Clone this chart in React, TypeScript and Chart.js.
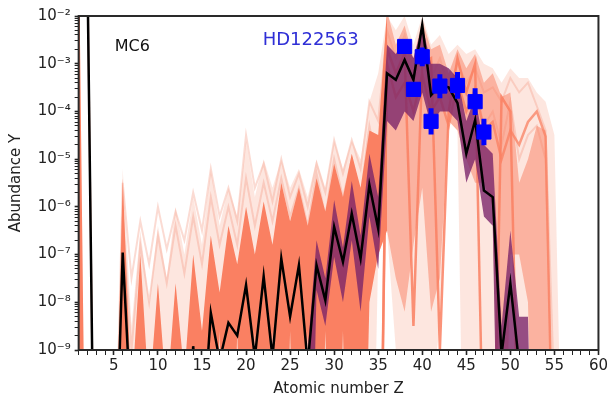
import { useEffect, useRef } from 'react';
import { Chart, registerables } from 'chart.js';

Chart.register(...registerables);

// Atomic number Z
const Z = [1, 2, 3, 4, 5, 6, 7, 8, 9, 10, 11, 12, 13, 14, 15, 16, 17, 18, 19, 20,
  21, 22, 23, 24, 25, 26, 27, 28, 29, 30, 31, 32, 33, 34, 35, 36, 37, 38, 39, 40,
  41, 42, 43, 44, 45, 46, 47, 48, 49, 50, 51, 52, 53, 54, 55, 56];

// Black median line
const medianY = [0.7, 0.08, 1e-16, 1e-16, 1e-13, 1.1e-7, 3e-11, 1e-13, 1e-13, 1e-13,
  1e-13, 1e-13, 1e-12, 1.2e-9, 1e-11, 6e-9, 6e-10, 3.7e-9, 2e-9, 2.3e-8,
  7e-10, 3.5e-8, 7e-10, 8.3e-8, 5e-9, 6e-8, 5e-10, 6e-8, 1.1e-8, 3.8e-7,
  7e-8, 7.2e-7, 8.3e-8, 2.9e-6, 3.5e-7, 6.3e-4, 4.6e-4, 1.2e-3, 4.6e-4, 6.5e-3,
  2.2e-4, 3.5e-4, 3.2e-4, 1.5e-4, 1.3e-5, 6.6e-5, 2.2e-6, 1.6e-6, 8e-10, 2.5e-8,
  5e-10, 1e-12, 1e-13, 1e-13, 1e-13, 1e-13];

// Saturated orange envelope
const orangeHi = [0.8, 1e-16, 1e-16, 1e-16, 1e-13, 4e-6, 1e-10, 1e-7, 1e-10, 2.5e-8,
  1e-10, 2.5e-8, 3e-10, 1e-7, 2.5e-9, 2.5e-7, 1.6e-8, 4e-7, 6.3e-8, 1e-6,
  1e-7, 1.3e-6, 1.6e-7, 3.2e-6, 5e-7, 2.5e-6, 4e-7, 4e-6, 8e-7, 8e-6,
  1.6e-6, 1.3e-5, 2.5e-6, 4e-5, 3.2e-5, 1.3e-2, 2.5e-3, 6.3e-3, 1.3e-3, 8e-3,
  2e-3, 2.5e-3, 6.3e-4, 2e-3, 8e-4, 1.6e-3, 4e-4, 6.3e-4, 2e-4, 2.5e-4,
  3.2e-6, 1e-5, 5e-5, 4e-5, 1e-12, 1e-13];
const orangeLo = [1e-16, 1e-16, 1e-16, 1e-16, 1e-16, 1e-16, 1e-16, 1e-16, 1e-16, 1e-16,
  1e-16, 1e-16, 1e-16, 1e-16, 1e-16, 1e-16, 2.5e-9, 1e-16, 2.5e-9, 1e-16,
  2.5e-9, 1e-16, 2.5e-9, 1e-16, 2.5e-9, 1e-16, 2.5e-9, 1e-16, 2.5e-9, 1e-16,
  2.5e-9, 1e-16, 1e-16, 1e-8, 1e-7, 3.2e-7, 3.2e-8, 6.3e-9, 1.6e-7, 2.5e-6,
  6.3e-9, 3.2e-8, 6.3e-5, 4e-5, 1e-5, 3.2e-6, 3.2e-6, 1e-6, 1e-16, 1e-7,
  1e-7, 1e-8, 1e-16, 1e-16, 1e-16, 1e-16];

// Pale outer envelope of all runs
const paleHi = [0.8, 1e-16, 1e-16, 1e-16, 1e-13, 6.3e-6, 3.2e-9, 3.2e-7, 1e-8, 4e-7,
  3.2e-8, 1e-6, 1e-7, 1.6e-6, 1.6e-7, 6.3e-6, 4e-7, 2.5e-6, 6.3e-7, 2.5e-5,
  1.6e-6, 1e-5, 2.5e-6, 1e-5, 2.5e-6, 6.3e-6, 1.6e-6, 1e-5, 2.5e-6, 2.5e-5,
  6.3e-6, 2.5e-5, 1e-5, 1.6e-4, 6.3e-4, 1e-2, 5e-3, 1e-2, 2.5e-3, 1e-2,
  2.5e-3, 4e-3, 1.6e-3, 2.5e-3, 1.6e-3, 2e-3, 1e-3, 8e-4, 4e-4, 8e-4,
  5e-4, 5e-4, 2.5e-4, 1.6e-4, 3.2e-5, 1e-13];
const paleLo = [1e-16, 1e-16, 1e-16, 1e-16, 1e-16, 1e-16, 1e-16, 1e-16, 1e-16, 1e-16,
  1e-16, 1e-16, 1e-16, 1e-16, 1e-16, 1e-16, 1e-16, 1e-16, 1e-16, 1e-16,
  1e-16, 1e-16, 1e-16, 1e-16, 1e-16, 1e-16, 1e-16, 1e-16, 1e-16, 1e-16,
  1e-16, 1e-16, 1e-16, 1e-16, 1e-7, 3.2e-7, 1e-9, 1e-10, 1e-10, 1e-10,
  1e-10, 3.2e-9, 6.3e-5, 4e-5, 1e-16, 1e-16, 1e-16, 1e-16, 1e-16, 1e-16,
  1e-16, 1e-16, 1e-16, 1e-16, 1e-16, 1e-16];

// Purple (inner) envelope
const purpleHi = [1e-16, 1e-16, 1e-16, 1e-16, 1e-16, 1e-16, 1e-16, 1e-16, 1e-16, 1e-16,
  1e-16, 1e-16, 1e-16, 1e-16, 1e-16, 1e-16, 1e-16, 1e-16, 1e-16, 1e-16,
  1e-16, 1e-16, 1e-16, 1e-16, 1e-16, 1e-16, 1e-9, 2e-7, 3.2e-8, 1.4e-6,
  1.4e-7, 3.5e-6, 2.5e-7, 1.3e-5, 1.6e-6, 2.5e-3, 1.6e-3, 3.2e-3, 1.3e-3, 6.3e-3,
  1e-3, 1e-3, 8e-4, 5e-4, 6.3e-5, 2e-4, 2e-5, 1.3e-5, 3.2e-9, 3.2e-7,
  5e-9, 5e-9, 1e-16, 1e-16, 1e-16, 1e-16];
const purpleLo = [1e-16, 1e-16, 1e-16, 1e-16, 1e-16, 1e-16, 1e-16, 1e-16, 1e-16, 1e-16,
  1e-16, 1e-16, 1e-16, 1e-16, 1e-16, 1e-16, 1e-16, 1e-16, 1e-16, 1e-16,
  1e-16, 1e-16, 1e-16, 1e-16, 1e-16, 1e-16, 1e-16, 1.8e-8, 3.2e-9, 8.9e-8,
  1e-8, 2e-7, 6.3e-9, 6.3e-7, 5e-8, 6.3e-5, 4e-5, 1e-4, 6.3e-5, 2.5e-4,
  5e-5, 1e-4, 1e-4, 6.3e-5, 3.2e-6, 1e-5, 6.3e-7, 4e-7, 1e-16, 1e-16,
  1e-16, 1e-16, 1e-16, 1e-16, 1e-16, 1e-16];

// Faint individual runs
const ghostA = [0.8, 0.1, 1e-16, 1e-16, 1e-13, 3.2e-6, 3.2e-8, 5e-7, 6.3e-8, 1e-6,
  1.3e-7, 8e-7, 2e-7, 2e-6, 3.2e-7, 6.3e-6, 6.3e-7, 2.5e-6, 5e-7, 3.2e-5,
  2.5e-6, 8e-6, 1.3e-6, 1e-5, 1.6e-6, 5e-6, 1e-6, 8e-6, 2e-6, 2.5e-5,
  5e-6, 2.5e-5, 6.3e-6, 1.6e-4, 6.3e-5, 5e-3, 1.3e-3, 4e-3, 6.3e-4, 4e-3,
  5e-4, 1.3e-3, 3.2e-4, 1e-3, 4e-4, 8e-4, 2.5e-4, 3.2e-4, 1.6e-4, 5e-4,
  2.5e-4, 4e-4, 1.3e-4, 4e-5, 1e-10, 1e-13];
const ghostB = [0.8, 0.1, 1e-16, 1e-16, 1e-13, 6.3e-7, 1e-9, 1.6e-7, 1e-8, 2.5e-7,
  2.5e-8, 4e-7, 4e-8, 6.3e-7, 6.3e-8, 1.6e-6, 1.6e-7, 1e-6, 1.6e-7, 4e-6,
  4e-7, 3.2e-6, 5e-7, 4e-6, 6.3e-7, 2.5e-6, 4e-7, 5e-6, 6.3e-7, 1e-5,
  1.6e-6, 1e-5, 1.6e-6, 5e-5, 6.3e-6, 2.5e-3, 6.3e-4, 2e-3, 3.2e-4, 2.5e-3,
  1.6e-4, 6.3e-4, 2e-4, 5e-4, 1e-4, 3.2e-4, 5e-5, 1e-4, 2e-5, 1.6e-4,
  1e-5, 3.2e-5, 5e-5, 1e-5, 1e-12, 1e-13];

// Orange runs that drop steeply (streaks at high Z)
const streakC = [1e-16, 1e-16, 1e-16, 1e-16, 1e-16, 1e-16, 1e-16, 1e-16, 1e-16, 1e-16,
  1e-16, 1e-16, 1e-16, 1e-16, 1e-16, 1e-16, 1e-16, 1e-16, 1e-16, 1e-16,
  1e-16, 1e-16, 1e-16, 1e-16, 1e-16, 1e-16, 1e-16, 1e-16, 1e-16, 1e-16,
  1e-16, 1e-16, 1e-16, 1e-16, 1e-16, 2e-3, 6.3e-4, 1.6e-3, 3.2e-9, 1e-3,
  1.3e-3, 1e-9, 1e-4, 1.3e-3, 2.5e-4, 1e-3, 1e-12, 1e-13, 2e-4, 1e-4,
  1e-12, 1e-13, 1e-13, 1e-13, 1e-13, 1e-13];
const streakD = [1e-16, 1e-16, 1e-16, 1e-16, 1e-16, 1e-16, 1e-16, 1e-16, 1e-16, 1e-16,
  1e-16, 1e-16, 1e-16, 1e-16, 1e-16, 1e-16, 1e-16, 1e-16, 1e-16, 1e-16,
  1e-16, 1e-16, 1e-16, 1e-16, 1e-16, 1e-16, 1e-16, 1e-16, 1e-16, 1e-16,
  1e-16, 1e-16, 1e-16, 1e-16, 1e-16, 1e-3, 2e-4, 4e-4, 1e-4, 6e-4,
  1e-4, 2e-4, 5e-5, 4e-4, 1e-4, 3e-4, 4e-5, 6e-5, 1e-5, 4e-5,
  2e-5, 6e-5, 1e-4, 3e-5, 1e-13, 1e-13];

// Observations HD122563
const obsZ = [38, 39, 40, 41, 42, 44, 46, 47];
const obsY = [2.3e-3, 2.9e-4, 1.4e-3, 6.2e-5, 3.4e-4, 3.5e-4, 1.6e-4, 3.7e-5];
const obsLo = [1.8e-3, 2.3e-4, 8.8e-4, 3.3e-5, 1.9e-4, 1.85e-4, 8.4e-5, 1.95e-5];
const obsHi = [2.9e-3, 3.65e-4, 2.2e-3, 1.16e-4, 6e-4, 6.7e-4, 3.05e-4, 7.05e-5];

// Tick labels
const xTickLabels = [5, 10, 15, 20, 25, 30, 35, 40, 45, 50, 55, 60];
const yTickExps = [-9, -8, -7, -6, -5, -4, -3, -2];

const SUP: Record<string, string> = { '-': '⁻', '0': '⁰', '1': '¹', '2': '²', '3': '³', '4': '⁴', '5': '⁵', '6': '⁶', '7': '⁷', '8': '⁸', '9': '⁹' };
const sup = (n: number) => String(n).split('').map((c) => SUP[c] ?? c).join('');

const pts = (vals: number[], from = 0, to = Z.length) =>
  Z.slice(from, to).map((z, i) => ({ x: z, y: vals[from + i] }));

const FONT = '"DejaVu Sans", sans-serif';

export default function App() {
  const ref = useRef<HTMLCanvasElement | null>(null);

  useEffect(() => {
    document.body.style.margin = '0';
    const canvas = ref.current;
    if (!canvas) return;

    const errPts: { x: number; y: number | null }[] = [];
    obsZ.forEach((z, i) => {
      errPts.push({ x: z, y: obsLo[i] }, { x: z, y: obsHi[i] }, { x: z, y: null });
    });

    const band = (hi: number[], lo: number[], color: string, order: number, label: string, from = 0, to = Z.length) => [
      {
        label: label + ' hi', data: pts(hi, from, to), borderWidth: 0, pointRadius: 0,
        backgroundColor: color, fill: '+1', order, tension: 0,
      },
      {
        label: label + ' lo', data: pts(lo, from, to), borderWidth: 0, pointRadius: 0,
        backgroundColor: 'transparent', fill: false, order, tension: 0,
      },
    ];

    const run = (vals: number[], color: string, width: number, order: number, label: string) => ({
      label, data: pts(vals), borderColor: color, borderWidth: width, pointRadius: 0, fill: false, order,
    });

    const overlay = {
      id: 'overlay',
      afterDraw(chart: any) {
        const { ctx, chartArea: a } = chart;
        ctx.save();
        ctx.strokeStyle = '#2a2a2a';
        ctx.lineWidth = 2;
        ctx.strokeRect(a.left, a.top, a.right - a.left, a.bottom - a.top);
        ctx.textBaseline = 'alphabetic';
        ctx.font = '16px ' + FONT;
        ctx.fillStyle = '#111';
        ctx.fillText('MC6', a.left + 36, a.top + 35);
        ctx.font = '18px ' + FONT;
        ctx.fillStyle = '#2f2fd6';
        ctx.fillText('HD122563', a.left + 184, a.top + 29);
        ctx.restore();
      },
    };

    const chart = new Chart(canvas, {
      type: 'line',
      data: {
        datasets: [
          ...band(paleHi, paleLo, 'rgba(250,185,165,0.36)', 20, 'pale'),
          run(ghostA, 'rgba(245,165,145,0.4)', 2, 15, 'run A'),
          run(ghostB, 'rgba(245,160,140,0.4)', 2, 15, 'run B'),
          ...band(orangeHi, orangeLo, 'rgb(250,128,98)', 12, 'orange low Z', 0, 36),
          ...band(orangeHi, orangeLo, 'rgba(250,128,98,0.5)', 12, 'orange high Z', 35, Z.length),
          run(streakC, 'rgba(250,128,98,0.85)', 2.5, 11, 'run C'),
          run(streakD, 'rgba(250,128,98,0.75)', 2.5, 11, 'run D'),
          ...band(purpleHi, purpleLo, 'rgba(120,35,105,0.78)', 8, 'purple'),
          run(medianY, '#000', 2.5, 4, 'median'),
          {
            label: 'err', data: errPts, borderColor: '#0000ff', borderWidth: 5,
            pointRadius: 0, fill: false, spanGaps: false, order: 2,
          },
          {
            label: 'HD122563', data: obsZ.map((z, i) => ({ x: z, y: obsY[i] })),
            showLine: false, pointStyle: 'rect', pointRadius: 10, pointBackgroundColor: '#0000ff',
            pointBorderColor: '#0000ff', pointBorderWidth: 1, order: 1,
          },
        ] as any,
      },
      options: {
        responsive: false,
        animation: false,
        events: [],
        layout: { padding: { left: 0, top: 16, right: 10, bottom: 0 } },
        plugins: { legend: { display: false }, tooltip: { enabled: false } },
        scales: {
          x: {
            type: 'linear', min: 1, max: 60,
            afterBuildTicks: (scale: any) => {
              const t = [];
              for (let v = 1; v <= 60; v++) t.push({ value: v });
              scale.ticks = t;
            },
            afterFit: (scale: any) => { scale.height = 51; },
            ticks: {
              autoSkip: false, maxRotation: 0, padding: 2, color: '#222',
              font: { family: FONT, size: 15 },
              callback: (v: any) => (xTickLabels.includes(Number(v)) ? String(v) : ''),
            },
            grid: {
              drawOnChartArea: false, drawTicks: true, tickLength: 5, tickColor: '#222',
              tickWidth: (c: any) => (c.tick && xTickLabels.includes(c.tick.value) ? 1.6 : 1),
            },
            border: { display: true, color: '#222', width: 2 },
            title: {
              display: true, text: 'Atomic number Z', color: '#222',
              font: { family: FONT, size: 15 }, padding: { top: 3, bottom: 3 },
            },
          },
          y: {
            type: 'logarithmic', min: 1e-9, max: 1e-2,
            afterBuildTicks: (scale: any) => {
              const t: any[] = [];
              yTickExps.forEach((e) => {
                t.push({ value: Math.pow(10, e), major: true });
                if (e < -2) for (let m = 2; m <= 9; m++) t.push({ value: m * Math.pow(10, e) });
              });
              scale.ticks = t;
            },
            afterFit: (scale: any) => { scale.width = 78.65; },
            ticks: {
              autoSkip: false, padding: 4, color: '#222',
              font: { family: FONT, size: 15 },
              callback: (v: any) => {
                const l = Math.log10(Number(v));
                const e = Math.round(l);
                return Math.abs(l - e) < 1e-6 && yTickExps.includes(e) ? '10' + sup(e) : '';
              },
            },
            grid: {
              drawOnChartArea: false, drawTicks: true, tickLength: 4, tickColor: '#222',
              tickWidth: (c: any) => {
                const l = Math.log10(c.tick ? c.tick.value : 1);
                return Math.abs(l - Math.round(l)) < 1e-6 ? 1.6 : 1;
              },
            },
            border: { display: true, color: '#222', width: 2 },
            title: {
              display: true, text: 'Abundance Y', color: '#222',
              font: { family: FONT, size: 15 }, padding: { top: 7, bottom: 0 },
            },
          },
        },
      } as any,
      plugins: [overlay],
    });

    return () => chart.destroy();
  }, []);

  return (
    <div style={{ width: 610, height: 401 }}>
      <canvas ref={ref} width={610} height={401} style={{ display: 'block' }} />
    </div>
  );
}
